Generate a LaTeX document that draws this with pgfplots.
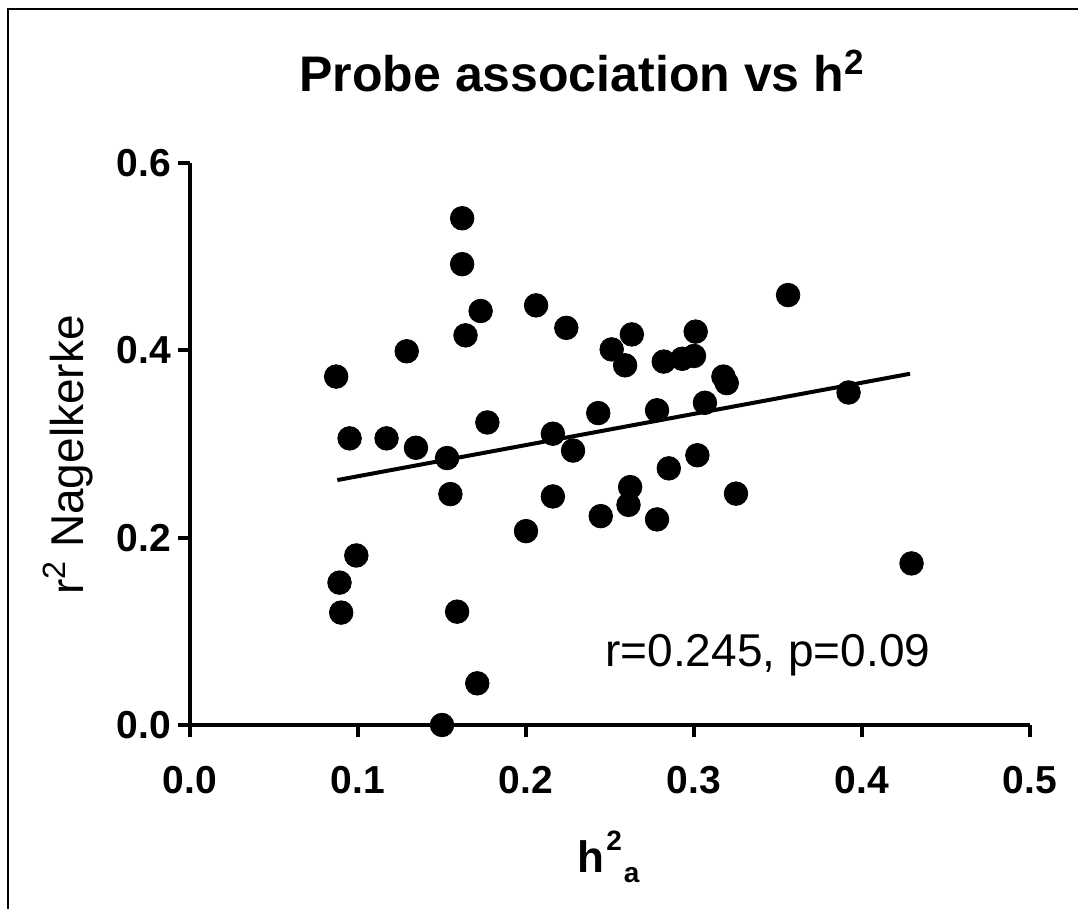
\documentclass[border=0pt]{standalone}
\usepackage{fontspec}
\setmainfont{Liberation Sans}
\usepackage{pgfplots}
\pgfplotsset{compat=1.18}
\begin{document}
\begin{tikzpicture}
\path[use as bounding box] (0bp,0bp) rectangle (539bp,454.5bp);
\draw[line width=1bp] (4bp,0bp) -- (4bp,450bp) -- (539bp,450bp);
\begin{axis}[at={(95bp,92bp)}, anchor=south west, scale only axis,
  width=420bp, height=281bp,
  xmin=0, xmax=0.5, ymin=0, ymax=0.6,
  axis x line*=bottom, axis y line*=left,
  axis line style={line width=2bp},
  xtick={0,0.1,0.2,0.3,0.4,0.5},
  xticklabels={0.0,0.1,0.2,0.3,0.4,0.5},
  ytick={0,0.2,0.4,0.6},
  yticklabels={0.0,0.2,0.4,0.6},
  /pgf/number format/assume math mode=true,
  tick label style={font=\bfseries\fontsize{19.5bp}{19.5bp}\selectfont},
  xticklabel style={yshift=-11bp},
  tick style={black, line width=2bp},
  major tick length=6bp, tick align=outside,
  clip=false]
\addplot[only marks, mark=*, mark size=5.9bp, black] coordinates {
(0.162,0.541) (0.162,0.492) (0.173,0.442) (0.164,0.416) (0.206,0.448)
(0.224,0.424) (0.129,0.399) (0.087,0.372) (0.095,0.306) (0.117,0.306)
(0.1345,0.296) (0.153,0.285) (0.177,0.323) (0.216,0.311) (0.228,0.293)
(0.243,0.333) (0.251,0.401) (0.259,0.384) (0.356,0.459) (0.263,0.417)
(0.301,0.420) (0.282,0.388) (0.293,0.391) (0.300,0.394) (0.3175,0.372)
(0.3195,0.365) (0.392,0.355) (0.278,0.336) (0.3065,0.344) (0.302,0.288)
(0.285,0.274) (0.262,0.254) (0.261,0.235) (0.2445,0.223) (0.278,0.2195)
(0.325,0.247) (0.4295,0.1725) (0.155,0.2465) (0.216,0.244) (0.200,0.207)
(0.099,0.181) (0.089,0.152) (0.090,0.120) (0.159,0.121) (0.171,0.0445)
(0.150,0.0)
};
\addplot[black, line width=2bp, no marks] coordinates {(0.0877,0.2615) (0.4286,0.375)};
\end{axis}
\node[anchor=base, font=\bfseries\fontsize{25bp}{30bp}\selectfont] at (291bp,408.5bp) {Probe association vs h\textsuperscript{2}};
\node[anchor=base west, inner sep=0pt, font=\fontsize{23bp}{28bp}\selectfont] at (302.5bp,121bp) {r=0.245, p=0.09};
\node[anchor=base, rotate=90, inner sep=0pt, font=\fontsize{23bp}{28bp}\selectfont] at (41.5bp,227bp) {r\textsuperscript{2} Nagelkerke};
\node[anchor=base west, inner sep=0pt, font=\bfseries\fontsize{22bp}{28bp}\selectfont] at (288.5bp,18.5bp) {h\kern1bp\raisebox{11bp}{\fontsize{14bp}{16bp}\selectfont 2}\kern1bp\raisebox{-5bp}{\fontsize{14bp}{16bp}\selectfont a}};
\end{tikzpicture}
\end{document}
